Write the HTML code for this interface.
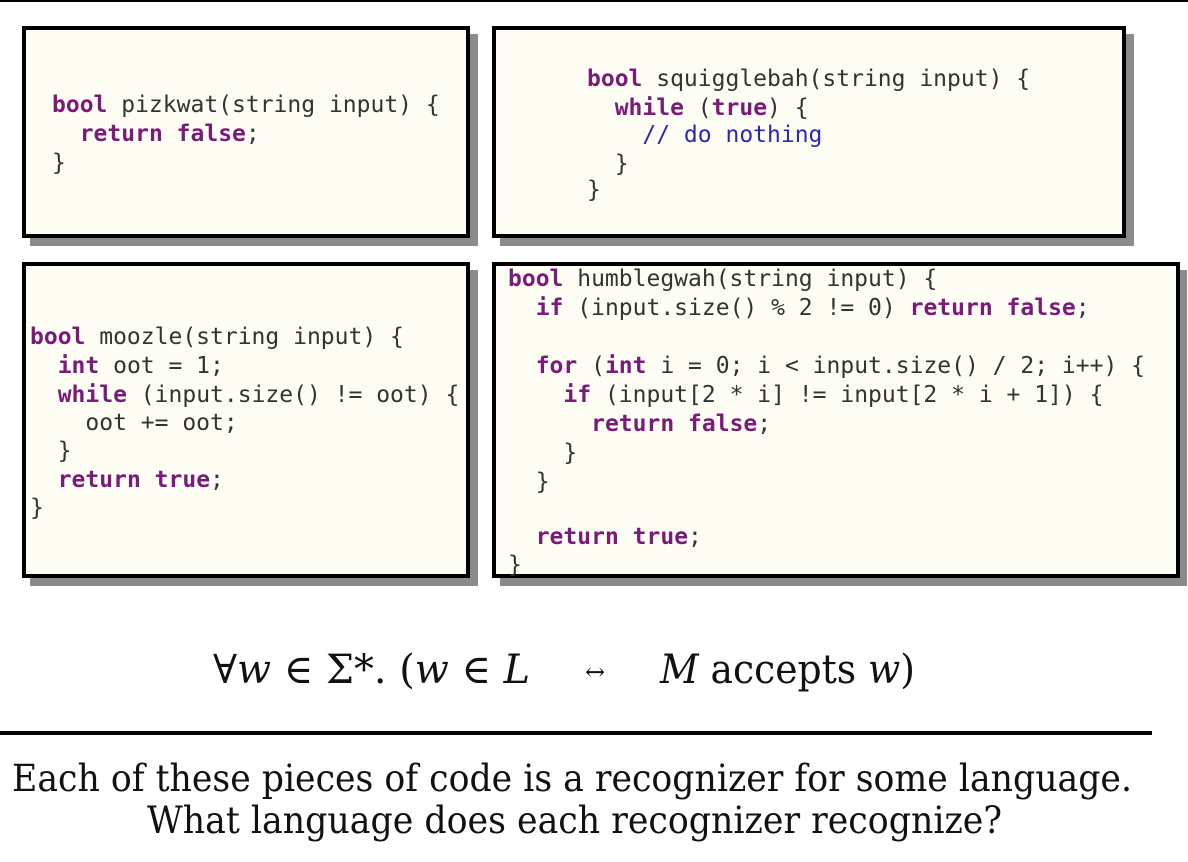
<!DOCTYPE html>
<html><head><style>
html,body{margin:0;padding:0;background:#fff;width:1188px;height:862px;overflow:hidden}
svg text{white-space:pre}
.c{font-family:"DejaVu Sans Mono","Liberation Mono",monospace;font-size:23px;fill:#333}
.k{fill:#7a1a7a;font-weight:bold}
.m{fill:#2a2ab0}
</style></head><body>
<svg width="1188" height="862" xmlns="http://www.w3.org/2000/svg" xml:space="preserve">
<rect x="0" y="0" width="1188" height="2" fill="#000"/>
<rect x="30" y="34" width="448" height="212" fill="#8a8a8a"/>
<rect x="500" y="34" width="634" height="212" fill="#8a8a8a"/>
<rect x="30" y="270" width="448" height="316" fill="#8a8a8a"/>
<rect x="500" y="270" width="687" height="316" fill="#8a8a8a"/>
<rect x="24" y="28" width="444" height="208" fill="#fdfdf3" stroke="#000" stroke-width="4"/>
<rect x="494" y="28" width="630" height="208" fill="#fdfdf3" stroke="#000" stroke-width="4"/>
<rect x="24" y="264" width="444" height="312" fill="#fdfdf3" stroke="#000" stroke-width="4"/>
<rect x="494" y="264" width="684" height="312" fill="#fdfdf3" stroke="#000" stroke-width="4"/>

<g class="c">
<text x="52" y="112"><tspan class="k">bool</tspan> pizkwat(string input) {</text>
<text x="52" y="141">  <tspan class="k">return</tspan> <tspan class="k">false</tspan>;</text>
<text x="52" y="170">}</text>

<text x="587" y="86"><tspan class="k">bool</tspan> squigglebah(string input) {</text>
<text x="587" y="115">  <tspan class="k">while</tspan> (<tspan class="k">true</tspan>) {</text>
<text x="587" y="142">    <tspan class="m">// do nothing</tspan></text>
<text x="587" y="171">  }</text>
<text x="587" y="197">}</text>

<text x="30" y="344"><tspan class="k">bool</tspan> moozle(string input) {</text>
<text x="30" y="373">  <tspan class="k">int</tspan> oot = 1;</text>
<text x="30" y="402">  <tspan class="k">while</tspan> (input.size() != oot) {</text>
<text x="30" y="430">    oot += oot;</text>
<text x="30" y="458">  }</text>
<text x="30" y="487">  <tspan class="k">return</tspan> <tspan class="k">true</tspan>;</text>
<text x="30" y="515">}</text>

<text x="508" y="286"><tspan class="k">bool</tspan> humblegwah(string input) {</text>
<text x="508" y="315">  <tspan class="k">if</tspan> (input.size() % 2 != 0) <tspan class="k">return</tspan> <tspan class="k">false</tspan>;</text>
<text x="508" y="373">  <tspan class="k">for</tspan> (<tspan class="k">int</tspan> i = 0; i &lt; input.size() / 2; i++) {</text>
<text x="508" y="402">    <tspan class="k">if</tspan> (input[2 * i] != input[2 * i + 1]) {</text>
<text x="508" y="431">      <tspan class="k">return</tspan> <tspan class="k">false</tspan>;</text>
<text x="508" y="460">    }</text>
<text x="508" y="489">  }</text>
<text x="508" y="544">  <tspan class="k">return</tspan> <tspan class="k">true</tspan>;</text>
<text x="508" y="572">}</text>
</g>

<g font-family="'DejaVu Serif','Liberation Serif',serif" font-size="40" fill="#111">
<text x="213" y="683" textLength="317" lengthAdjust="spacingAndGlyphs">∀<tspan font-style="italic">w</tspan> ∈ Σ*. (<tspan font-style="italic">w</tspan> ∈ <tspan font-style="italic">L</tspan></text>
<text x="585" y="680" font-size="24">↔</text>
<text x="660" y="683" textLength="255" lengthAdjust="spacingAndGlyphs"><tspan font-style="italic">M</tspan> accepts <tspan font-style="italic">w</tspan>)</text>
</g>
<rect x="0" y="731" width="1152" height="4" fill="#000"/>
<g font-family="'DejaVu Serif','Liberation Serif',serif" font-size="37" fill="#111">
<text x="12" y="791" textLength="1120" lengthAdjust="spacingAndGlyphs">Each of these pieces of code is a recognizer for some language.</text>
<text x="147" y="833" textLength="855" lengthAdjust="spacingAndGlyphs">What language does each recognizer recognize?</text>
</g>
</svg>
</body></html>
